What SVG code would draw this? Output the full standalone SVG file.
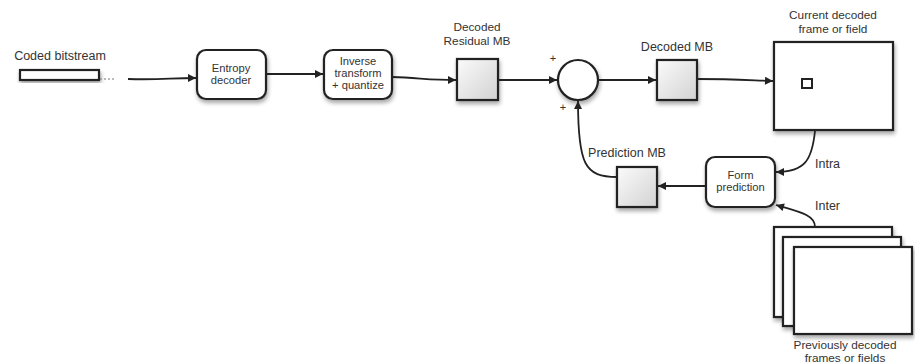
<svg xmlns="http://www.w3.org/2000/svg" width="915" height="364" viewBox="0 0 915 364">
<style>
text{font-family:"Liberation Sans",Arial,sans-serif;fill:#333;text-anchor:middle}
.lbl{font-size:12.5px}
.ml{font-size:11.8px}
.in{font-size:11.2px}
.box{fill:#fff;stroke:#222;stroke-width:2.2}
.sq{fill:url(#g);stroke:#222;stroke-width:2.2}
.c{fill:none;stroke:#222;stroke-width:1.8}
</style>
<defs>
<linearGradient id="g" x1="0" y1="0" x2="1" y2="1">
<stop offset="0" stop-color="#fbfbfb"/>
<stop offset="1" stop-color="#d2d2d2"/>
</linearGradient>
<filter id="sh" x="-20%" y="-20%" width="150%" height="150%">
<feGaussianBlur in="SourceAlpha" stdDeviation="2"/>
<feOffset dx="1" dy="3" result="b"/>
<feComponentTransfer><feFuncA type="linear" slope="0.35"/></feComponentTransfer>
<feMerge><feMergeNode/><feMergeNode in="SourceGraphic"/></feMerge>
</filter>
<marker id="a" viewBox="0 0 10 10" refX="10" refY="5" markerWidth="10" markerHeight="8" markerUnits="userSpaceOnUse" orient="auto">
<path d="M0,0 L10,5 L0,10 Z" fill="#222"/>
</marker>
</defs>

<g id="bitstream">
<text class="lbl" x="60" y="60">Coded bitstream</text>
<rect class="box" x="20" y="70" width="79" height="10" filter="url(#sh)"/>
<line x1="100" y1="79" x2="114" y2="79" stroke="#777" stroke-width="1" stroke-dasharray="2,2"/>
</g>

<g id="entropy">
<rect class="box" x="197" y="50" width="69" height="49" rx="9" filter="url(#sh)"/>
<text class="in" x="231" y="72">Entropy</text>
<text class="in" x="231" y="84">decoder</text>
</g>

<g id="inverse">
<rect class="box" x="324" y="50" width="68" height="49" rx="9" filter="url(#sh)"/>
<text class="in" x="358" y="64.5">Inverse</text>
<text class="in" x="358" y="76.5">transform</text>
<text class="in" x="358" y="88.5">+ quantize</text>
</g>

<g id="residual">
<text class="ml" x="477" y="31">Decoded</text>
<text class="ml" x="477" y="45">Residual MB</text>
<rect class="sq" x="457" y="59" width="41" height="41" filter="url(#sh)"/>
</g>

<g id="sum">
<circle cx="578" cy="80" r="20" fill="#fff" stroke="#222" stroke-width="2.2" filter="url(#sh)"/>
<text x="553" y="62" style="font-size:11px">+</text>
<text x="563" y="111" style="font-size:11px">+</text>
</g>

<g id="decodedmb">
<text class="lbl" x="677" y="51">Decoded MB</text>
<rect class="sq" x="657" y="60" width="40" height="40" filter="url(#sh)"/>
</g>

<g id="current">
<text class="ml" x="833" y="19">Current decoded</text>
<text class="ml" x="833" y="33">frame or field</text>
<rect class="box" x="774" y="42" width="119" height="88" filter="url(#sh)"/>
<rect x="802" y="79" width="10" height="9" fill="#fff" stroke="#222" stroke-width="2"/>
</g>

<g id="formpred">
<rect class="box" x="706" y="157" width="69" height="50" rx="9" filter="url(#sh)"/>
<text class="in" x="740.5" y="179">Form</text>
<text class="in" x="740.5" y="191">prediction</text>
</g>

<g id="predmb">
<text class="lbl" x="627" y="157">Prediction MB</text>
<rect class="sq" x="617" y="167" width="40" height="40" filter="url(#sh)"/>
</g>

<g id="previous">
<rect class="box" x="774" y="227" width="118" height="90" filter="url(#sh)"/>
<rect class="box" x="783" y="237" width="118" height="89" filter="url(#sh)"/>
<rect class="box" x="794" y="247" width="118" height="87" filter="url(#sh)"/>
<text class="ml" x="845" y="348.5">Previously decoded</text>
<text class="ml" x="845" y="362">frames or fields</text>
</g>

<g id="connectors">
<path class="c" d="M128,79 C160,80 170,78 196,78" marker-end="url(#a)"/>
<path class="c" d="M266,74 L323,74" marker-end="url(#a)"/>
<path class="c" d="M392,77 C420,78 430,80 456,80" marker-end="url(#a)"/>
<path class="c" d="M498,80 L557,80" marker-end="url(#a)"/>
<path class="c" d="M598,80 L656,80" marker-end="url(#a)"/>
<path class="c" d="M697,79 C730,79 745,80 773,81" marker-end="url(#a)"/>
<path class="c" d="M815,131 C812,160 805,172 776,172" marker-end="url(#a)"/>
<path class="c" d="M706,186 L658,186" marker-end="url(#a)"/>
<path class="c" d="M617,177 C585,177 578,165 578,101" marker-end="url(#a)"/>
<path class="c" d="M815,227 C815,215 800,212 776,205" marker-end="url(#a)"/>
<text class="lbl" x="815" y="168" style="text-anchor:start">Intra</text>
<text class="lbl" x="815" y="210" style="text-anchor:start">Inter</text>
</g>
</svg>
